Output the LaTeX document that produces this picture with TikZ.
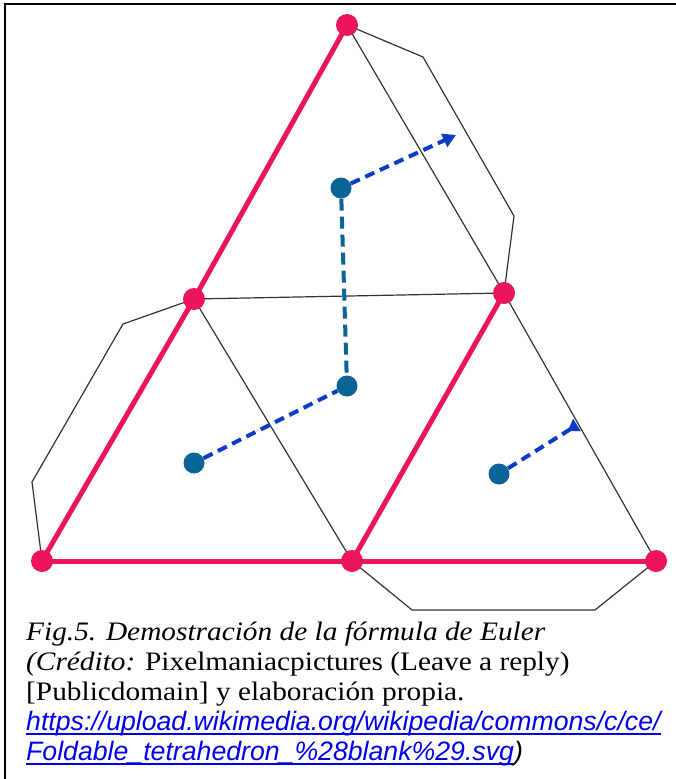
\documentclass[tikz,border=0pt]{standalone}
\usepackage{fontspec}
\setmainfont[FakeStretch=1.1]{Liberation Serif}
\newfontfamily\urlfont{Liberation Sans}
\usetikzlibrary{arrows.meta}
\definecolor{vred}{HTML}{EC145C}
\definecolor{dotblue}{HTML}{0A6496}
\definecolor{dashblue}{HTML}{0A3CC8}
\definecolor{linkblue}{HTML}{0000EE}
\tikzset{
  frameline/.style={draw=black, line width=2pt},
  thinline/.style={draw=black!80, line width=1.2pt, line join=round},
  redline/.style={draw=vred, line width=5pt, line cap=round},
  vdot/.style={circle, fill=vred, inner sep=0pt, minimum size=22pt},
  fdot/.style={circle, fill=dotblue, inner sep=0pt, minimum size=21pt},
  dualv/.style={draw=dotblue, line width=4pt, dash pattern=on 12pt off 6pt},
  duald/.style={draw=dashblue, line width=4pt, dash pattern=on 10pt off 6pt},
  captxt/.style={inner sep=0pt, anchor=base west, font=\fontsize{26.67}{30}\selectfont},
}
\newsavebox{\lnkbox}
\newcommand{\linkul}[1]{\textcolor{linkblue}{\sbox{\lnkbox}{#1}\rlap{\rule[-5pt]{\wd\lnkbox}{1.8pt}}\usebox{\lnkbox}}}
\begin{document}
\begin{tikzpicture}[x=1pt,y=-1pt]
\useasboundingbox (0,0) rectangle (676,779);
\fill[white] (0,0) rectangle (676,779);
\draw[frameline] (4.7,779) -- (4.7,3.5) -- (676,3.5);
% vertices
\coordinate (T) at (347,25);
\coordinate (L) at (194,299);
\coordinate (R) at (504,293);
\coordinate (BL) at (42,561);
\coordinate (BM) at (352,561);
\coordinate (BR) at (656,561);
% flap corners
\coordinate (f1) at (423,57);
\coordinate (f2) at (514,216);
\coordinate (f3) at (123,324);
\coordinate (f4) at (32,482);
\coordinate (f5) at (412,610);
\coordinate (f6) at (595,610);
% thin edges
\draw[thinline] (T) -- (R);
\draw[thinline] (L) -- (R);
\draw[thinline] (L) -- (BM);
\draw[thinline] (R) -- (BR);
\draw[thinline] (T) -- (f1) -- (f2) -- (R);
\draw[thinline] (L) -- (f3) -- (f4) -- (BL);
\draw[thinline] (BM) -- (f5) -- (f6) -- (BR);
% red edges
\draw[redline] (T) -- (L) -- (BL);
\draw[redline] (BL) -- (BM) -- (BR);
\draw[redline] (BM) -- (R);
% vertex dots
\foreach \v in {T,L,R,BL,BM,BR} \node[vdot] (d\v) at (\v) {};
% dual dots
\node[fdot] (D1) at (341,188) {};
\node[fdot] (D2) at (347,386) {};
\node[fdot] (D3) at (194,463) {};
\node[fdot] (D4) at (499,474) {};
\coordinate (A1) at (456,135);
\coordinate (A2) at (577,425);
\draw[dualv] (D1) -- (D2);
\draw[duald] (D3) -- (D2);
\draw[duald, -{Triangle[length=13pt,width=14pt]}] (D1) -- (A1);
\draw[duald, -{Triangle[reversed,length=11pt,width=14pt]}] (D4) -- (A2);
% caption
\node[captxt] (c1) at (26,640) {\itshape Fig.5. Demostración de la fórmula de Euler};
\node[captxt] (c2) at (26,670) {\textit{(Crédito:} Pixelmaniacpictures (Leave a reply)};
\node[captxt] (c3) at (26,700) {[Publicdomain] y elaboración propia.};
\node[captxt] (c4) at (26,730) {\urlfont\itshape\linkul{https://upload.wikimedia.org/wikipedia/commons/c/ce/}};
\node[captxt] (c5) at (26,760) {\urlfont\itshape\linkul{Foldable\_tetrahedron\_\%28blank\%29.svg})};
\end{tikzpicture}
\end{document}
